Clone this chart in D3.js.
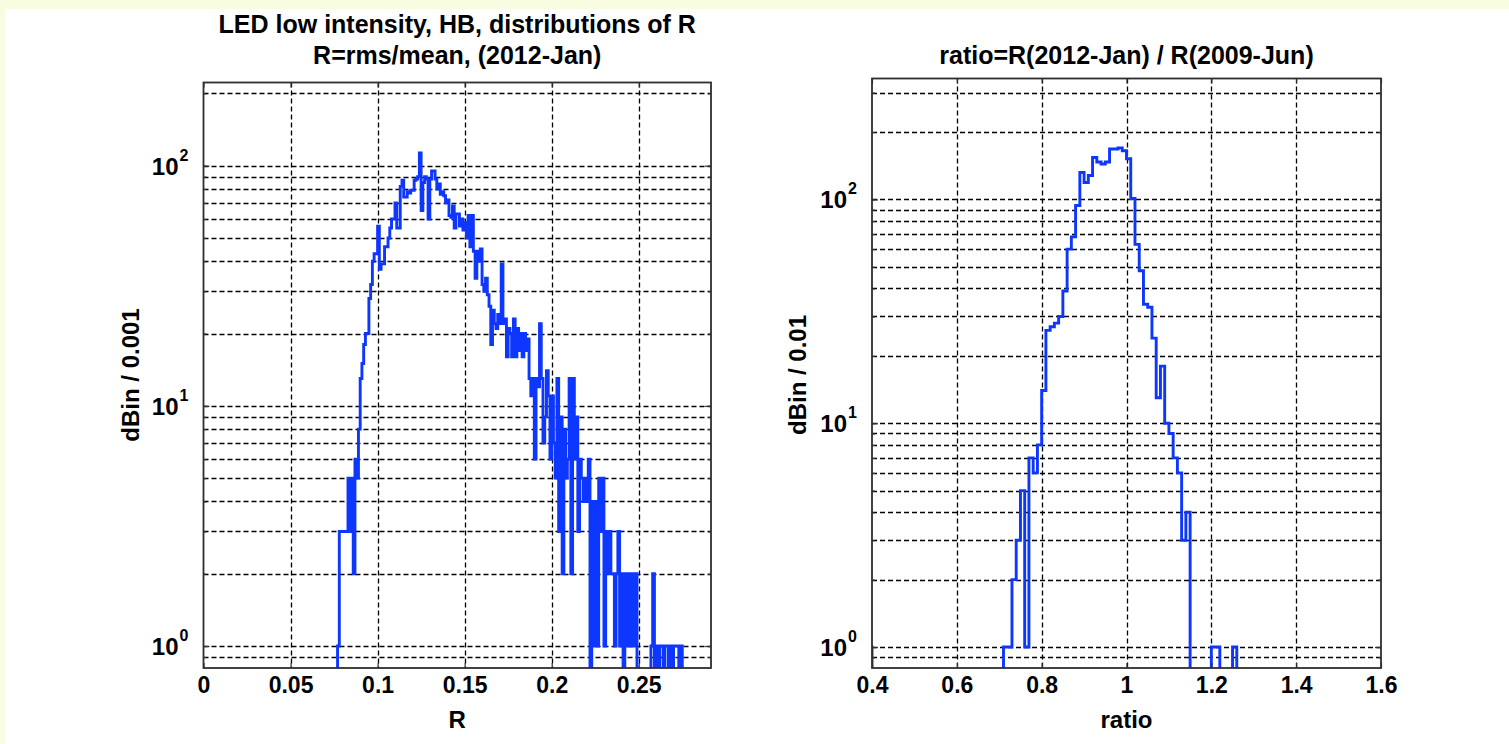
<!DOCTYPE html>
<html><head><meta charset="utf-8">
<script src="https://cdn.jsdelivr.net/npm/d3@7"></script>
<style>html,body{margin:0;padding:0;background:#fff;} svg{display:block;}</style>
</head><body>
<svg id="chart" width="1509" height="744"></svg>
<script>
// ---------------- data ----------------
const leftTitle = ["LED low intensity, HB, distributions of R", "R=rms/mean, (2012-Jan)"];
const rightTitle = ["ratio=R(2012-Jan) / R(2009-Jun)"];
const leftXLabel = "R", leftYLabel = "dBin / 0.001";
const rightXLabel = "ratio", rightYLabel = "dBin / 0.01";
const leftXTicks = [0, 0.05, 0.1, 0.15, 0.2, 0.25];
const leftXTickLabels = ["0", "0.05", "0.1", "0.15", "0.2", "0.25"];
const rightXTicks = [0.4, 0.6, 0.8, 1, 1.2, 1.4, 1.6];
const rightXTickLabels = ["0.4", "0.6", "0.8", "1", "1.2", "1.4", "1.6"];
const yDecades = [1, 10, 100];
const yDecadeExponents = ["0", "1", "2"];

const leftBinStart = 0.077, leftBinWidth = 0.001;
const leftCounts = [
  1,3,3,3,3,3,5,3,5,2,
  6,5,8,13,15,18,20,20,28,32,
  40,43,43,56,37,39,39,46,46,50,
  55,60,60,70,55,55,82,87,74,74,
  78,77,79,79,87,88,90,113,65,85,
  90,88,60,88,95,95,88,80,84,76,
  78,75,70,72,62,61,68,55,63,63,
  56,60,54,58,50,62,46,62,44,34,
  44,40,45,32,30,34,29,26,18,25,
  22,21,24,22,39,22,23,16,21,20,
  16,23,16,21,17,20,16,20,17,19,
  13,11,13,6,13,12,22,13,7,9,
  14,11,6,11,7,5,13,3,9,2,
  8,5,6,13,2,13,6,9,3,6,
  5,4,5,4,6,0,4,1,4,1,
  5,3,5,1,3,2,3,2,2,1,
  2,3,1,2,0,2,1,2,1,2,
  1,2,0,0,0,0,0,0,0,0,
  1,2,0,1,0,1,1,0,1,1,
  0,1,0,1,1,1,0,1
];

const rightBinStart = 0.39, rightBinWidth = 0.01;
const rightCounts = [
  1,
  0,0,0,0,0,0,0,0,0,0,
  0,0,0,0,0,0,0,0,0,0,
  0,0,0,0,0,0,0,0,0,0,0,
  1,1,2,3,5,1,7,6,8,14,
  26,27,28,30,39,60,68,94,132,119,
  128,154,147,144,147,168,168,170,165,152,
  101,63,48,34,33,24,13,18,10,9,
  7,6,3,4,0,0,0,0,0,1,
  1,0,0,0,1
];

// ---------------- layout ----------------
const svg = d3.select("#chart");
const BG = "#f8fce0";
svg.append("rect").attr("x",0).attr("y",0).attr("width",1509).attr("height",744).attr("fill","#ffffff");
svg.append("rect").attr("x",0).attr("y",0).attr("width",1509).attr("height",9).attr("fill",BG);
svg.append("rect").attr("x",0).attr("y",0).attr("width",5).attr("height",744).attr("fill",BG);

const FONT = "'Liberation Sans', Arial, sans-serif";

function drawPanel(cfg) {
  const g = svg.append("g");
  const x = d3.scaleLinear().domain(cfg.xDomain).range([cfg.left, cfg.right]);
  const y = d3.scaleLog().domain(cfg.yDomain).range([cfg.bottom, cfg.top]);

  const minor = [];
  [0.1, 1, 10, 100].forEach(d => { for (let k = 1; k < 10; k++) { const v = d * k; if (v >= cfg.yDomain[0] && v <= cfg.yDomain[1]) minor.push(v); } });

  // grid
  const grid = g.append("g").attr("stroke", "#000").attr("stroke-width", 1.3).attr("stroke-dasharray", "5,3");
  grid.selectAll("line.h").data(minor).join("line").attr("class","h")
    .attr("x1", cfg.left).attr("x2", cfg.right)
    .attr("y1", d => Math.round(y(d)) + 0.5).attr("y2", d => Math.round(y(d)) + 0.5);
  grid.selectAll("line.v").data(cfg.xTicks.filter(t => t > cfg.xDomain[0] && t < cfg.xDomain[1])).join("line").attr("class","v")
    .attr("x1", d => Math.round(x(d)) + 0.5).attr("x2", d => Math.round(x(d)) + 0.5)
    .attr("y1", cfg.top).attr("y2", cfg.bottom);

  // histogram as stairs
  const clipId = "clip" + cfg.id;
  svg.append("clipPath").attr("id", clipId).append("rect")
    .attr("x", cfg.left).attr("y", cfg.top).attr("width", cfg.right - cfg.left).attr("height", cfg.bottom - cfg.top);
  const pts = [];
  const n = cfg.counts.length;
  const low = cfg.yDomain[0] * 0.5;
  pts.push([cfg.binStart, low]);
  cfg.counts.forEach((c, i) => {
    const x0 = cfg.binStart + i * cfg.binWidth, x1 = x0 + cfg.binWidth;
    const v = c > 0 ? c : low;
    pts.push([x0, v]); pts.push([x1, v]);
  });
  pts.push([cfg.binStart + n * cfg.binWidth, low]);
  const line = d3.line().x(d => x(d[0])).y(d => y(d[1]));
  g.append("path").attr("clip-path", `url(#${clipId})`).attr("d", line(pts))
    .attr("fill", "none").attr("stroke", "#0d36ff").attr("stroke-width", 2.9).attr("stroke-linejoin", "miter");

  // axes
  const axB = d3.axisBottom(x).tickValues(cfg.xTicks).tickFormat((d, i) => cfg.xTickLabels[i]).tickSizeInner(-5).tickSizeOuter(0).tickPadding(9);
  const gb = g.append("g").attr("transform", `translate(0,${cfg.bottom})`).call(axB);
  const axT = d3.axisTop(x).tickValues(cfg.xTicks).tickFormat("").tickSizeInner(-5).tickSizeOuter(0);
  g.append("g").attr("transform", `translate(0,${cfg.top})`).call(axT);
  const axL = d3.axisLeft(y).tickValues(minor).tickFormat("").tickSizeInner(-3).tickSizeOuter(0);
  g.append("g").attr("transform", `translate(${cfg.left},0)`).call(axL);
  const axR = d3.axisRight(y).tickValues(minor).tickFormat("").tickSizeInner(-3).tickSizeOuter(0);
  g.append("g").attr("transform", `translate(${cfg.right},0)`).call(axR);
  const axLD = d3.axisLeft(y).tickValues(yDecades).tickFormat("").tickSizeInner(-6).tickSizeOuter(0);
  g.append("g").attr("transform", `translate(${cfg.left},0)`).call(axLD);
  const axRD = d3.axisRight(y).tickValues(yDecades).tickFormat("").tickSizeInner(-6).tickSizeOuter(0);
  g.append("g").attr("transform", `translate(${cfg.right},0)`).call(axRD);
  g.selectAll(".domain").remove();
  g.selectAll(".tick line").attr("stroke", "#333").attr("stroke-width", 1.2);
  gb.selectAll(".tick text").attr("font-family", FONT).attr("font-weight", "bold").attr("font-size", "23px").attr("fill", "#000");

  // y decade labels with superscript
  const yl = g.append("g");
  yDecades.forEach((d, i) => {
    yl.append("text").attr("x", cfg.left - 25).attr("y", y(d) + 9)
      .attr("text-anchor", "end").attr("font-family", FONT).attr("font-weight", "bold").attr("font-size", "24px").attr("fill", "#000")
      .text("10");
    yl.append("text").attr("x", cfg.left - 24).attr("y", y(d) - 5)
      .attr("text-anchor", "start").attr("font-family", FONT).attr("font-weight", "bold").attr("font-size", "16px").attr("fill", "#000")
      .text(yDecadeExponents[i]);
  });

  // frame
  g.append("rect").attr("x", cfg.left).attr("y", cfg.top).attr("width", cfg.right - cfg.left).attr("height", cfg.bottom - cfg.top)
    .attr("fill", "none").attr("stroke", "#2e2e2e").attr("stroke-width", 1.8);

  // titles and labels
  const cx = (cfg.left + cfg.right) / 2;
  cfg.title.forEach((t, i) => {
    g.append("text").attr("x", cx).attr("y", cfg.titleY[i]).attr("text-anchor", "middle")
      .attr("font-family", FONT).attr("font-weight", "bold").attr("font-size", "25px").attr("fill", "#000").text(t);
  });
  g.append("text").attr("x", cx).attr("y", cfg.bottom + 60).attr("text-anchor", "middle")
    .attr("font-family", FONT).attr("font-weight", "bold").attr("font-size", "24px").attr("fill", "#000").text(cfg.xLabel);
  g.append("text").attr("transform", `translate(${cfg.yLabelX},375) rotate(-90)`).attr("text-anchor", "middle")
    .attr("font-family", FONT).attr("font-weight", "bold").attr("font-size", "24px").attr("fill", "#000").text(cfg.yLabel);
}

drawPanel({
  id: "L", left: 203.5, right: 711, top: 82.5, bottom: 668,
  xDomain: [0, 0.2915], yDomain: [0.81, 222],
  xTicks: leftXTicks, xTickLabels: leftXTickLabels,
  binStart: leftBinStart, binWidth: leftBinWidth, counts: leftCounts,
  title: leftTitle, titleY: [33, 64], xLabel: leftXLabel, yLabel: leftYLabel, yLabelX: 139
});
drawPanel({
  id: "R", left: 872, right: 1381, top: 78.5, bottom: 668,
  xDomain: [0.4, 1.6], yDomain: [0.806, 347],
  xTicks: rightXTicks, xTickLabels: rightXTickLabels,
  binStart: rightBinStart, binWidth: rightBinWidth, counts: rightCounts,
  title: rightTitle, titleY: [64], xLabel: rightXLabel, yLabel: rightYLabel, yLabelX: 806
});
</script>
</body></html>
